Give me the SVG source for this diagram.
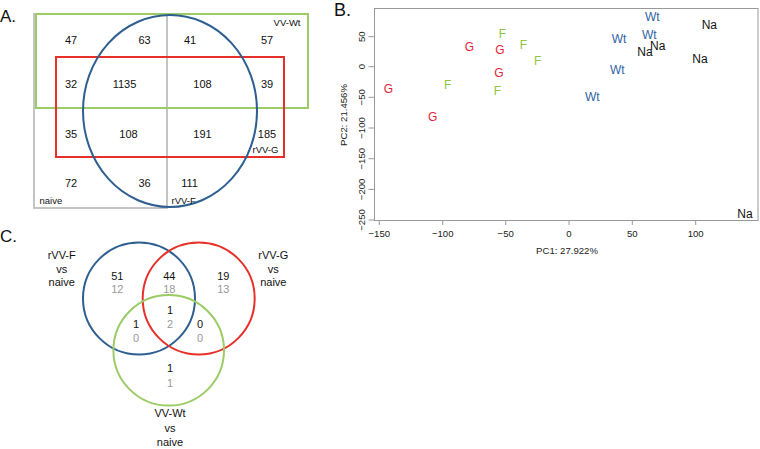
<svg xmlns="http://www.w3.org/2000/svg" width="760" height="449" viewBox="0 0 760 449">
<style>
text{font-family:"Liberation Sans",Arial,sans-serif;fill:#111}
.lt{font-size:17px}
.na{font-size:11px;text-anchor:middle}
.sl{font-size:9.5px}
.pt{font-size:12px;text-anchor:middle}
.G{fill:#e31d3c}.F{fill:#8cc63f}.W{fill:#2e64a4}
.tk{font-size:9.6px;text-anchor:middle;fill:#222}
.cl{font-size:11px;text-anchor:middle}
.gr{fill:#999}
.ax{stroke:#999;stroke-width:1;fill:none}
</style>
<rect width="760" height="449" fill="#fff"/>
<g id="panelA">
<text class="lt" x="0" y="22">A.</text>
<g id="naive"><rect x="34" y="14" width="133" height="194" fill="none" stroke="#c4c4c4" stroke-width="2"/><line x1="167" y1="14" x2="167" y2="208" stroke="#c4c4c4" stroke-width="2"/><text class="sl" x="39.5" y="204">naive</text></g>
<g id="vvwt"><rect x="36" y="14" width="272" height="94" fill="none" stroke="#9ccc66" stroke-width="2"/><text class="sl" x="300.5" y="26" text-anchor="end">VV-Wt</text></g>
<g id="rvvg"><rect x="56" y="57" width="228" height="100" fill="none" stroke="#e8302a" stroke-width="2"/><text class="sl" x="265.5" y="153" text-anchor="middle">rVV-G</text></g>
<g id="rvvf"><ellipse cx="170" cy="111" rx="87" ry="96" fill="none" stroke="#2d5f91" stroke-width="2"/><text class="sl" x="171.5" y="204">rVV-F</text></g>
<g id="countsA">
<text class="na" x="71" y="44">47</text><text class="na" x="144.5" y="44">63</text><text class="na" x="190" y="44">41</text><text class="na" x="267" y="44">57</text>
<text class="na" x="71" y="88">32</text><text class="na" x="124.5" y="88">1135</text><text class="na" x="202.5" y="88">108</text><text class="na" x="267" y="88">39</text>
<text class="na" x="71" y="138">35</text><text class="na" x="128.5" y="138">108</text><text class="na" x="202.5" y="138">191</text><text class="na" x="267" y="138">185</text>
<text class="na" x="71" y="186.5">72</text><text class="na" x="144.5" y="186.5">36</text><text class="na" x="189.5" y="186.5">111</text>
</g>
</g>
<g id="panelB">
<text class="lt" x="334" y="16" style="font-size:18px">B.</text>
<rect class="ax" x="374.5" y="8.5" width="383.5" height="212"/>
<g class="ax">
<path d="M368.5 36.7H374.5M368.5 66.7H374.5M368.5 97.3H374.5M368.5 128H374.5M368.5 158.7H374.5M368.5 189.4H374.5M368.5 220H374.5"/>
<path d="M379.3 220.5V225M442.7 220.5V225M505.7 220.5V225M569 220.5V225M632.3 220.5V225M695.7 220.5V225"/>
</g>
<g id="yticks">
<text class="tk" transform="translate(364.5 36.7) rotate(-90)">50</text>
<text class="tk" transform="translate(364.5 66.7) rotate(-90)">0</text>
<text class="tk" transform="translate(364.5 97.3) rotate(-90)">−50</text>
<text class="tk" transform="translate(364.5 128) rotate(-90)">−100</text>
<text class="tk" transform="translate(364.5 158.7) rotate(-90)">−150</text>
<text class="tk" transform="translate(364.5 189.4) rotate(-90)">−200</text>
<text class="tk" transform="translate(364.5 220) rotate(-90)">−250</text>
</g>
<g id="xticks">
<text class="tk" x="379.3" y="236.5">−150</text><text class="tk" x="442.7" y="236.5">−100</text><text class="tk" x="505.7" y="236.5">−50</text><text class="tk" x="569" y="236.5">0</text><text class="tk" x="632.3" y="236.5">50</text><text class="tk" x="695.7" y="236.5">100</text>
</g>
<text class="tk" x="567" y="254">PC1: 27.922%</text>
<text class="tk" transform="translate(346.5 115) rotate(-90)">PC2: 21.456%</text>
<g id="points">
<text class="pt W" x="652.3" y="21">Wt</text>
<text class="pt" x="709.3" y="29.3">Na</text>
<text class="pt W" x="619" y="43.3">Wt</text>
<text class="pt W" x="649.3" y="39.3">Wt</text>
<text class="pt" x="657.7" y="50">Na</text>
<text class="pt" x="645" y="56">Na</text>
<text class="pt" x="700" y="63">Na</text>
<text class="pt W" x="617.3" y="74">Wt</text>
<text class="pt W" x="592.3" y="101">Wt</text>
<text class="pt" x="745" y="217.6">Na</text>
<text class="pt G" x="469.3" y="51">G</text>
<text class="pt G" x="500" y="54">G</text>
<text class="pt F" x="502.3" y="38.3">F</text>
<text class="pt F" x="523.3" y="49.3">F</text>
<text class="pt F" x="537.7" y="65.3">F</text>
<text class="pt G" x="499" y="77">G</text>
<text class="pt G" x="388.3" y="93.3">G</text>
<text class="pt F" x="447.7" y="89.3">F</text>
<text class="pt F" x="497.3" y="95.3">F</text>
<text class="pt G" x="432.7" y="121">G</text>
</g>
</g>
<g id="panelC">
<text class="lt" x="0" y="242">C.</text>
<g id="setF"><circle cx="139" cy="298.5" r="56" fill="none" stroke="#2d5f91" stroke-width="2"/>
<text class="cl" x="61.7" y="259.3">rVV-F</text><text class="cl" x="61.7" y="272.5">vs</text><text class="cl" x="61.7" y="285.5">naive</text></g>
<g id="setG"><circle cx="198.7" cy="298.5" r="56" fill="none" stroke="#e8302a" stroke-width="2"/>
<text class="cl" x="273.3" y="259.3">rVV-G</text><text class="cl" x="273.3" y="272.5">vs</text><text class="cl" x="273.3" y="285.5">naive</text></g>
<g id="setW"><circle cx="168.7" cy="350.3" r="55.3" fill="none" stroke="#9ccc66" stroke-width="2"/>
<text class="cl" x="170" y="417">VV-Wt</text><text class="cl" x="170" y="432">vs</text><text class="cl" x="170" y="446">naive</text></g>
<g id="countsC">
<text class="cl" x="117.3" y="280">51</text><text class="cl gr" x="117.3" y="293.3">12</text>
<text class="cl" x="169.3" y="280">44</text><text class="cl gr" x="169.3" y="293.3">18</text>
<text class="cl" x="223.3" y="280">19</text><text class="cl gr" x="223.3" y="293.3">13</text>
<text class="cl" x="170" y="314">1</text><text class="cl gr" x="170" y="328.3">2</text>
<text class="cl" x="136" y="328.3">1</text><text class="cl gr" x="136" y="341.7">0</text>
<text class="cl" x="200" y="328.3">0</text><text class="cl gr" x="200" y="341.7">0</text>
<text class="cl" x="170" y="372.3">1</text><text class="cl gr" x="170" y="386.7">1</text>
</g>
</g>
</svg>
